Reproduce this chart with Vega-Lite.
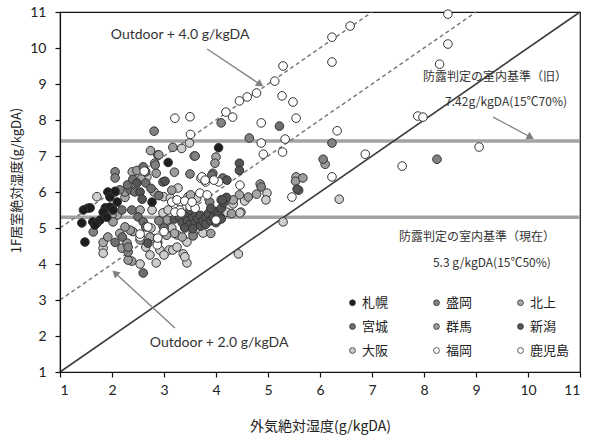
{
"$schema":"https://vega.github.io/schema/vega-lite/v6.json",
"width":520,"height":360,"autosize":{"type":"none"},
"padding":{"left":60,"top":12,"right":9,"bottom":65},
"background":"white",
"config":{"view":{"stroke":"#111","strokeWidth":1.2},"axis":{"grid":false,"domainColor":"#111","tickColor":"#111","domainWidth":1.2,"tickWidth":1.2,"labelColor":"#222","titleColor":"#222","titleFontWeight":"normal"}},
"datasets":{
"diag":[{"k":"solid","x":1,"y":1,"x2":11,"y2":11},{"k":"dash","x":1,"y":3,"x2":9,"y2":11},{"k":"dash","x":1,"y":5,"x2":7,"y2":11}],
"hl":[{"v":7.42},{"v":5.3}],
"arrows":[{"id":"a1","x":3.83,"y":9.97,"x2":4.88,"y2":8.96,"hx":4.85,"hy":8.99},{"id":"a2","x":3.21,"y":2.22,"x2":2.04,"y2":3.78,"hx":2.06,"hy":3.75},{"id":"a3","x":9.33,"y":8.08,"x2":10.08,"y2":7.5,"hx":10.05,"hy":7.52}],
"txtL":[{"t":"Outdoor + 4.0 g/kgDA","x":3.31,"y":10.36},{"t":"Outdoor + 2.0 g/kgDA","x":4.06,"y":1.81}],
"txtJ":[{"t":"防露判定の室内基準（旧）","x":10.75,"y":9.19},{"t":"7.42g/kgDA(15℃70%)","x":10.75,"y":8.5},{"t":"防露判定の室内基準（現在）","x":10.52,"y":4.75},{"t":"5.3 g/kgDA(15℃50%)","x":10.44,"y":4.03}],
"pts":[
{"c":"大阪","x":3.34,"y":7.21},{"c":"大阪","x":3.49,"y":7.36},{"c":"大阪","x":3.58,"y":7.0},{"c":"大阪","x":2.88,"y":7.03},{"c":"大阪","x":2.67,"y":6.42},{"c":"大阪","x":2.99,"y":5.87},{"c":"大阪","x":3.27,"y":6.11},{"c":"大阪","x":3.12,"y":5.83},{"c":"大阪","x":3.46,"y":5.86},{"c":"大阪","x":4.98,"y":5.97},{"c":"大阪","x":4.96,"y":5.78},{"c":"大阪","x":4.55,"y":5.75},{"c":"大阪","x":4.33,"y":5.67},{"c":"大阪","x":4.48,"y":5.44},{"c":"大阪","x":4.21,"y":5.44},{"c":"大阪","x":4.46,"y":5.42},{"c":"大阪","x":6.37,"y":5.8},{"c":"大阪","x":5.29,"y":5.17},{"c":"大阪","x":4.43,"y":4.28},{"c":"大阪","x":3.37,"y":4.28},{"c":"大阪","x":3.44,"y":4.03},{"c":"大阪","x":3.75,"y":4.86},{"c":"大阪","x":1.83,"y":4.44},{"c":"大阪","x":1.83,"y":4.3},{"c":"大阪","x":2.54,"y":4.0},{"c":"大阪","x":2.73,"y":4.25},{"c":"大阪","x":2.85,"y":4.03},{"c":"大阪","x":2.92,"y":4.39},{"c":"大阪","x":3.1,"y":4.39},{"c":"大阪","x":3.17,"y":4.39},{"c":"大阪","x":3.25,"y":4.47},{"c":"大阪","x":3.44,"y":4.61},{"c":"大阪","x":3.25,"y":4.81},{"c":"大阪","x":3.56,"y":4.86},{"c":"大阪","x":3.0,"y":4.25},{"c":"大阪","x":2.65,"y":4.47},{"c":"大阪","x":2.75,"y":5.0},{"c":"大阪","x":2.98,"y":5.06},{"c":"大阪","x":3.15,"y":5.0},{"c":"大阪","x":2.77,"y":5.5},{"c":"大阪","x":2.98,"y":5.42},{"c":"大阪","x":3.08,"y":5.5},{"c":"大阪","x":3.63,"y":5.83},{"c":"大阪","x":3.4,"y":4.2},{"c":"大阪","x":1.71,"y":5.87},
{"c":"北上","x":2.74,"y":7.15},{"c":"北上","x":2.82,"y":6.8},{"c":"北上","x":4.0,"y":6.97},{"c":"北上","x":2.39,"y":6.56},{"c":"北上","x":2.56,"y":6.36},{"c":"北上","x":2.81,"y":6.0},{"c":"北上","x":3.51,"y":5.92},{"c":"北上","x":4.45,"y":5.92},{"c":"北上","x":4.33,"y":5.78},{"c":"北上","x":4.78,"y":5.94},{"c":"北上","x":5.54,"y":6.42},{"c":"北上","x":2.25,"y":5.85},{"c":"北上","x":2.54,"y":5.5},{"c":"北上","x":2.1,"y":5.36},{"c":"北上","x":2.0,"y":5.36},{"c":"北上","x":2.4,"y":4.9},{"c":"北上","x":2.15,"y":4.85},{"c":"北上","x":1.83,"y":4.6},{"c":"北上","x":2.54,"y":4.67},{"c":"北上","x":3.35,"y":4.75},{"c":"北上","x":3.2,"y":4.85},{"c":"北上","x":3.05,"y":4.8},{"c":"北上","x":2.88,"y":4.6},{"c":"北上","x":2.73,"y":4.75},
{"c":"群馬","x":2.85,"y":6.52},{"c":"群馬","x":2.48,"y":6.6},{"c":"群馬","x":2.25,"y":6.0},{"c":"群馬","x":3.17,"y":7.24},{"c":"群馬","x":2.9,"y":7.03},{"c":"群馬","x":3.98,"y":6.8},{"c":"群馬","x":3.15,"y":6.05},{"c":"群馬","x":4.62,"y":5.86},{"c":"群馬","x":5.53,"y":6.3},{"c":"群馬","x":5.67,"y":6.39},{"c":"群馬","x":6.1,"y":6.77},{"c":"群馬","x":4.85,"y":6.22},{"c":"群馬","x":2.19,"y":4.44},{"c":"群馬","x":2.38,"y":4.08},{"c":"群馬","x":2.29,"y":4.58},{"c":"群馬","x":1.92,"y":4.75},{"c":"群馬","x":2.02,"y":5.17},{"c":"群馬","x":2.35,"y":4.94},{"c":"群馬","x":2.25,"y":5.03},{"c":"群馬","x":3.06,"y":5.22},{"c":"群馬","x":4.3,"y":5.4},{"c":"群馬","x":3.9,"y":4.85},{"c":"群馬","x":2.31,"y":4.11},{"c":"群馬","x":3.2,"y":6.55},
{"c":"盛岡","x":2.06,"y":6.56},{"c":"盛岡","x":2.06,"y":6.39},{"c":"盛岡","x":2.06,"y":6.0},{"c":"盛岡","x":1.64,"y":4.89},{"c":"盛岡","x":2.81,"y":7.69},{"c":"盛岡","x":4.1,"y":7.92},{"c":"盛岡","x":4.64,"y":7.5},{"c":"盛岡","x":6.23,"y":7.36},{"c":"盛岡","x":3.6,"y":7.0},{"c":"盛岡","x":3.94,"y":6.52},{"c":"盛岡","x":4.87,"y":6.14},{"c":"盛岡","x":2.31,"y":4.33},{"c":"盛岡","x":2.31,"y":4.47},{"c":"盛岡","x":3.56,"y":4.78},{"c":"盛岡","x":2.83,"y":6.75},{"c":"盛岡","x":3.5,"y":6.5},{"c":"盛岡","x":6.06,"y":6.91},{"c":"盛岡","x":8.25,"y":6.91},{"c":"盛岡","x":2.15,"y":6.06},{"c":"盛岡","x":2.9,"y":5.2},{"c":"盛岡","x":3.88,"y":5.72},
{"c":"宮城","x":2.6,"y":6.7},{"c":"宮城","x":2.65,"y":6.56},{"c":"宮城","x":2.65,"y":6.25},{"c":"宮城","x":2.98,"y":6.28},{"c":"宮城","x":4.13,"y":6.39},{"c":"宮城","x":3.92,"y":6.47},{"c":"宮城","x":2.38,"y":5.5},{"c":"宮城","x":2.5,"y":5.31},{"c":"宮城","x":2.6,"y":5.17},{"c":"宮城","x":2.19,"y":5.5},{"c":"宮城","x":2.35,"y":6.06},{"c":"宮城","x":2.44,"y":6.0},{"c":"宮城","x":2.2,"y":4.75},{"c":"宮城","x":2.06,"y":4.6},{"c":"宮城","x":2.6,"y":3.75},{"c":"宮城","x":5.22,"y":7.83},{"c":"宮城","x":5.59,"y":6.05},{"c":"宮城","x":2.65,"y":5.03},{"c":"宮城","x":3.0,"y":5.0},{"c":"宮城","x":4.1,"y":5.78},{"c":"宮城","x":2.9,"y":5.9},{"c":"宮城","x":2.3,"y":6.2},{"c":"宮城","x":2.4,"y":6.35},{"c":"宮城","x":2.75,"y":6.1},
{"c":"新潟","x":3.2,"y":5.25},{"c":"新潟","x":3.3,"y":5.3},{"c":"新潟","x":3.35,"y":5.15},{"c":"新潟","x":3.4,"y":5.35},{"c":"新潟","x":3.45,"y":5.2},{"c":"新潟","x":3.5,"y":5.1},{"c":"新潟","x":3.55,"y":5.3},{"c":"新潟","x":3.6,"y":5.4},{"c":"新潟","x":3.6,"y":5.15},{"c":"新潟","x":3.65,"y":5.25},{"c":"新潟","x":3.7,"y":5.05},{"c":"新潟","x":3.7,"y":5.35},{"c":"新潟","x":3.75,"y":5.2},{"c":"新潟","x":3.8,"y":5.3},{"c":"新潟","x":3.8,"y":5.1},{"c":"新潟","x":3.85,"y":5.4},{"c":"新潟","x":3.9,"y":5.2},{"c":"新潟","x":3.95,"y":5.3},{"c":"新潟","x":4.0,"y":5.45},{"c":"新潟","x":4.0,"y":5.15},{"c":"新潟","x":4.05,"y":5.35},{"c":"新潟","x":4.1,"y":5.55},{"c":"新潟","x":4.15,"y":5.7},{"c":"新潟","x":4.2,"y":5.85},{"c":"新潟","x":3.4,"y":5.0},{"c":"新潟","x":3.55,"y":4.98},{"c":"新潟","x":3.25,"y":5.45},{"c":"新潟","x":3.5,"y":5.5},{"c":"新潟","x":4.1,"y":5.25},{"c":"新潟","x":3.9,"y":5.55},{"c":"新潟","x":4.12,"y":5.78},{"c":"新潟","x":4.21,"y":6.33},{"c":"新潟","x":4.45,"y":6.8},{"c":"新潟","x":4.45,"y":6.6},{"c":"新潟","x":5.56,"y":6.08},{"c":"新潟","x":2.54,"y":6.0},{"c":"新潟","x":2.58,"y":5.8},{"c":"新潟","x":2.69,"y":4.58},{"c":"新潟","x":2.48,"y":6.25},{"c":"新潟","x":3.02,"y":6.3},
{"c":"札幌","x":1.92,"y":6.0},{"c":"札幌","x":1.96,"y":5.86},{"c":"札幌","x":2.06,"y":6.02},{"c":"札幌","x":1.53,"y":5.55},{"c":"札幌","x":1.58,"y":5.56},{"c":"札幌","x":1.45,"y":5.5},{"c":"札幌","x":1.87,"y":5.56},{"c":"札幌","x":1.96,"y":5.58},{"c":"札幌","x":1.83,"y":5.44},{"c":"札幌","x":1.42,"y":5.14},{"c":"札幌","x":1.63,"y":5.17},{"c":"札幌","x":1.77,"y":5.22},{"c":"札幌","x":1.48,"y":4.61},{"c":"札幌","x":2.1,"y":5.72},{"c":"札幌","x":2.77,"y":5.72},{"c":"札幌","x":3.08,"y":6.82},{"c":"札幌","x":4.05,"y":7.23},{"c":"札幌","x":1.71,"y":5.14},{"c":"札幌","x":1.67,"y":5.08},{"c":"札幌","x":1.9,"y":5.3},{"c":"札幌","x":2.02,"y":5.5},
{"c":"福岡","x":3.21,"y":8.05},{"c":"福岡","x":3.5,"y":8.09},{"c":"鹿児島","x":3.51,"y":7.6},{"c":"鹿児島","x":4.19,"y":8.22},{"c":"福岡","x":4.32,"y":8.08},{"c":"鹿児島","x":4.45,"y":8.53},{"c":"鹿児島","x":4.6,"y":8.64},{"c":"福岡","x":4.78,"y":8.75},{"c":"鹿児島","x":5.13,"y":9.08},{"c":"鹿児島","x":5.29,"y":9.5},{"c":"福岡","x":4.87,"y":7.92},{"c":"鹿児島","x":5.27,"y":8.67},{"c":"福岡","x":5.48,"y":8.5},{"c":"福岡","x":5.54,"y":8.05},{"c":"鹿児島","x":5.33,"y":7.47},{"c":"福岡","x":5.28,"y":7.11},{"c":"福岡","x":4.87,"y":7.36},{"c":"鹿児島","x":4.91,"y":7.05},{"c":"鹿児島","x":6.58,"y":10.61},{"c":"鹿児島","x":6.23,"y":10.3},{"c":"鹿児島","x":8.46,"y":10.94},{"c":"鹿児島","x":8.46,"y":10.11},{"c":"鹿児島","x":6.23,"y":9.61},{"c":"鹿児島","x":8.3,"y":9.55},{"c":"福岡","x":7.88,"y":8.11},{"c":"鹿児島","x":7.98,"y":8.08},{"c":"福岡","x":6.33,"y":7.7},{"c":"鹿児島","x":9.06,"y":7.25},{"c":"福岡","x":6.87,"y":7.05},{"c":"福岡","x":7.58,"y":6.72},{"c":"福岡","x":6.23,"y":6.42},{"c":"福岡","x":5.46,"y":5.86},{"c":"福岡","x":2.62,"y":6.58},{"c":"福岡","x":3.69,"y":5.97},{"c":"鹿児島","x":3.71,"y":6.38},{"c":"福岡","x":3.8,"y":6.28},{"c":"鹿児島","x":4.05,"y":6.28},{"c":"鹿児島","x":4.46,"y":6.19},{"c":"福岡","x":3.73,"y":6.42},{"c":"福岡","x":3.31,"y":5.72},{"c":"鹿児島","x":3.15,"y":5.72},{"c":"福岡","x":3.79,"y":6.33},{"c":"福岡","x":3.83,"y":5.92},{"c":"鹿児島","x":3.25,"y":5.78},{"c":"福岡","x":3.4,"y":5.75},{"c":"福岡","x":3.5,"y":5.6},{"c":"鹿児島","x":3.6,"y":5.55},{"c":"福岡","x":3.3,"y":5.5},{"c":"福岡","x":3.21,"y":5.44},{"c":"鹿児島","x":3.33,"y":5.42},{"c":"福岡","x":2.69,"y":5.03},{"c":"福岡","x":2.87,"y":4.53},{"c":"鹿児島","x":2.54,"y":4.75},{"c":"福岡","x":2.54,"y":4.83},{"c":"福岡","x":4.0,"y":5.22},{"c":"鹿児島","x":3.54,"y":5.72},{"c":"鹿児島","x":3.96,"y":6.33},{"c":"福岡","x":2.88,"y":4.72},{"c":"福岡","x":3.0,"y":4.9}
]},
"layer":[
{"data":{"name":"hl"},"mark":{"type":"rule","stroke":"#a3a3a3","strokeWidth":3.5},
 "encoding":{"y":{"field":"v","type":"quantitative","scale":{"domain":[1,11],"nice":false},"axis":null}}},
{"data":{"name":"diag"},"transform":[{"filter":"datum.k==='dash'"}],
 "mark":{"type":"rule","stroke":"#7a7a7a","strokeWidth":1.5,"strokeDash":[4,3]},
 "encoding":{"x":{"field":"x","type":"quantitative","scale":{"domain":[1,11],"nice":false},"axis":null},"y":{"field":"y","type":"quantitative","axis":null},"x2":{"field":"x2"},"y2":{"field":"y2"}}},
{"data":{"name":"diag"},"transform":[{"filter":"datum.k==='solid'"}],
 "mark":{"type":"rule","stroke":"#3d3d3d","strokeWidth":1.6},
 "encoding":{"x":{"field":"x","type":"quantitative","axis":null},"y":{"field":"y","type":"quantitative","axis":null},"x2":{"field":"x2"},"y2":{"field":"y2"}}},
{"data":{"name":"pts"},
 "mark":{"type":"point","filled":true,"opacity":1,"size":74,"stroke":"#333","strokeWidth":1},
 "encoding":{
  "x":{"field":"x","type":"quantitative","scale":{"domain":[1,11],"nice":false},"axis":{"orient":"bottom","values":[1,2,3,4,5,6,7,8,9,10,11],"tickSize":5,"labelPadding":6,"labelFontSize":14,"labelFont":"Lato","title":"外気絶対湿度(g/kgDA)","titleFont":"Noto Sans CJK JP","titleFontSize":14,"titlePadding":22,"zindex":1}},
  "y":{"field":"y","type":"quantitative","scale":{"domain":[1,11],"nice":false},"axis":{"orient":"left","values":[1,2,3,4,5,6,7,8,9,10,11],"tickSize":5,"labelPadding":9,"labelFontSize":14,"labelFont":"Lato","title":"1F居室絶対湿度(g/kgDA)","titleFont":"Noto Sans CJK JP","titleFontSize":13,"titlePadding":6,"titleY":168,"zindex":1}},
  "color":{"field":"c","type":"nominal","scale":{"domain":["札幌","盛岡","北上","宮城","群馬","新潟","大阪","福岡","鹿児島"],"range":["#1e1e1e","#828282","#a8a8a8","#6e6e6e","#9c9c9c","#545454","#cdcdcd","#ffffff","#ffffff"]},
   "legend":{"title":null,"orient":"none","legendX":286,"legendY":284,"columns":3,"direction":"horizontal","gridAlign":"all","columnPadding":28,"rowPadding":10,"symbolSize":34,"symbolStrokeColor":"#333","symbolStrokeWidth":0.8,"symbolType":"circle","labelFont":"Noto Sans CJK JP","labelFontSize":13,"labelColor":"#222","labelOffset":3}}}},
{"data":{"name":"arrows"},"mark":{"type":"rule","stroke":"#808080","strokeWidth":1.3},
 "encoding":{"x":{"field":"x","type":"quantitative","axis":null},"y":{"field":"y","type":"quantitative","axis":null},"x2":{"field":"x2"},"y2":{"field":"y2"}}},
{"data":{"name":"arrows"},"transform":[{"filter":"datum.id==='a1'"}],"mark":{"type":"point","shape":"triangle-up","filled":true,"opacity":1,"size":70,"fill":"#808080","angle":123},
 "encoding":{"x":{"field":"hx","type":"quantitative","axis":null},"y":{"field":"hy","type":"quantitative","axis":null}}},
{"data":{"name":"arrows"},"transform":[{"filter":"datum.id==='a2'"}],"mark":{"type":"point","shape":"triangle-up","filled":true,"opacity":1,"size":70,"fill":"#808080","angle":313},
 "encoding":{"x":{"field":"hx","type":"quantitative","axis":null},"y":{"field":"hy","type":"quantitative","axis":null}}},
{"data":{"name":"arrows"},"transform":[{"filter":"datum.id==='a3'"}],"mark":{"type":"point","shape":"triangle-up","filled":true,"opacity":1,"size":70,"fill":"#808080","angle":119},
 "encoding":{"x":{"field":"hx","type":"quantitative","axis":null},"y":{"field":"hy","type":"quantitative","axis":null}}},
{"data":{"name":"txtL"},"mark":{"type":"text","font":"Lato","fontSize":14,"align":"center","baseline":"middle","color":"#333"},
 "encoding":{"x":{"field":"x","type":"quantitative","axis":null},"y":{"field":"y","type":"quantitative","axis":null},"text":{"field":"t"}}},
{"data":{"name":"txtJ"},"mark":{"type":"text","font":"Noto Sans CJK JP","fontSize":12,"align":"right","baseline":"middle","color":"#333"},
 "encoding":{"x":{"field":"x","type":"quantitative","axis":null},"y":{"field":"y","type":"quantitative","axis":null},"text":{"field":"t"}}}
],
"resolve":{"axis":{"x":"independent","y":"independent"}}
}
